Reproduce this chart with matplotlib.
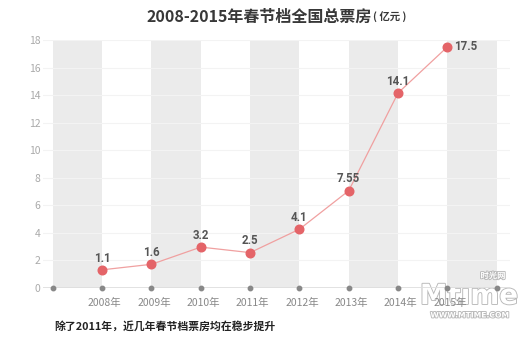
import matplotlib
matplotlib.use("Agg")
import matplotlib.pyplot as plt
import matplotlib.patheffects as pe

plt.rcParams['font.family'] = ['Noto Sans CJK SC', 'DejaVu Sans']

# positions of the data points as drawn, and the labels printed beside them
years = ['2008年', '2009年', '2010年', '2011年', '2012年', '2013年', '2014年', '2015年']
values = [1.3, 1.7, 2.95, 2.55, 4.25, 7.05, 14.15, 17.5]
value_labels = ['1.1', '1.6', '3.2', '2.5', '4.1', '7.55', '14.1', '17.5']
y_ticks = [0, 2, 4, 6, 8, 10, 12, 14, 16, 18]

title_main = '2008-2015年春节档全国总票房'
title_unit = '( 亿元 )'
caption = '除了2011年，近几年春节档票房均在稳步提升'

W, H = 531, 340
fig = plt.figure(figsize=(W / 100, H / 100), dpi=100)
ax = fig.add_axes([43 / W, (H - 287.7) / H, (510 - 43) / W, (287.7 - 40) / H])
ax.set_facecolor('none')

xs = list(range(1, len(years) + 1))

# alternating grey bands
for k in range(0, len(years) + 2, 2):
    ax.axvspan(k, k + 1, color='#ebebeb', lw=0, zorder=0)

for t in y_ticks[1:]:
    ax.axhline(t, color='#f3f3f3', lw=0.8, zorder=0.5)
ax.axhline(0, color='#dddddd', lw=1.2, zorder=1)
ax.plot(range(0, len(years) + 2), [0] * (len(years) + 2), 'o', color='#888888',
        ms=3.2, zorder=2, clip_on=False)

ax.plot(xs, values, color='#f0a0a0', lw=0.9, zorder=3)
ax.plot(xs, values, 'o', color='#e46468', ms=6.2, zorder=4)

for i, (x, v, lab) in enumerate(zip(xs, values, value_labels)):
    if i == len(xs) - 1:
        ax.annotate(lab, (x, v), xytext=(5, 0), textcoords='offset points',
                    ha='left', va='center', fontsize=8.3, color='#555555',
                    family='Roboto', fontweight='bold')
    else:
        ax.annotate(lab, (x, v), xytext=(0, 8.5), textcoords='offset points',
                    ha='center', va='center', fontsize=8.3, color='#555555',
                    family='Roboto', fontweight='bold')

ax.set_xlim(-0.2, 9.27)
ax.set_ylim(0, 18)
ax.set_yticks(y_ticks)
ax.set_yticklabels([str(t) for t in y_ticks], color='#aaaaaa', fontsize=7.5)
ax.set_xticks([x + 0.05 for x in xs])
ax.set_xticklabels(years, color='#888888', fontsize=7.5)
ax.tick_params(length=0, pad=2)
ax.tick_params(axis='x', pad=7)
for s in ax.spines.values():
    s.set_visible(False)

fig.text(372 / W, 1 - 17 / H, title_main, ha='right', va='center', fontsize=11.5,
         color='#383838', fontweight='bold')
fig.text(373 / W, 1 - 17 / H, title_unit, ha='left', va='center', fontsize=7.5,
         color='#383838', fontweight='bold')
fig.text(54 / W, 1 - 326 / H, caption, ha='left', va='center', fontsize=7.8,
         color='#222222', fontweight='bold')

# watermark; the big word sits beneath the axes so the 2015 label stays readable
wm = [pe.withStroke(linewidth=1.3, foreground='#b8b8b8')]
fig.text(469 / W, 1 - 296 / H, 'Mtime', ha='center', va='center', fontsize=20,
         color='white', fontweight='bold', family='DejaVu Sans', path_effects=wm,
         zorder=-1)
fig.text(493 / W, 1 - 276 / H, '时光网', ha='center', va='center', fontsize=6,
         color='white', fontweight='bold', path_effects=wm, zorder=5)
fig.text(470 / W, 1 - 315 / H, 'WWW.MTIME.COM', ha='center', va='center', fontsize=5.5,
         color='white', fontweight='bold', family='DejaVu Sans', path_effects=wm,
         zorder=-1)

fig.savefig('out.png', dpi=100, facecolor='white')
